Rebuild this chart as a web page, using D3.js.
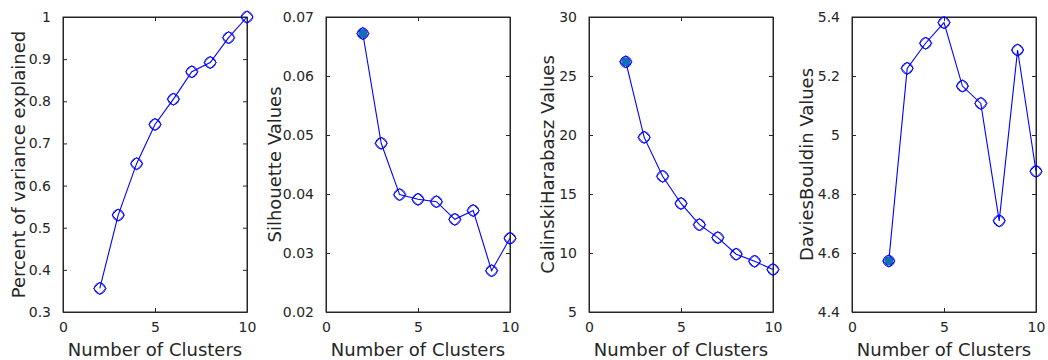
<!DOCTYPE html>
<html>
<head>
<meta charset="utf-8">
<script src="https://cdn.jsdelivr.net/npm/d3@7"></script>
<style>
  body { margin: 0; background: #fff; }
  text { font-family: "DejaVu Sans", sans-serif; fill: #262626; }
</style>
</head>
<body>
<svg id="chart"></svg>
<script>
// cluster counts shared by all four panels
const clusters = [2, 3, 4, 5, 6, 7, 8, 9, 10]
const xTicks = [0, 5, 10]

const varianceExplained = [0.356, 0.530, 0.652, 0.745, 0.805, 0.870, 0.892, 0.951, 1.0]
const silhouetteValues = [0.0672, 0.0486, 0.0399, 0.0391, 0.0387, 0.0357, 0.0372, 0.0270, 0.0325]
const calinskiValues = [26.2, 19.8, 16.5, 14.2, 12.4, 11.3, 9.9, 9.3, 8.6]
const daviesValues = [4.573, 5.226, 5.311, 5.381, 5.166, 5.107, 4.709, 5.288, 4.877]

const varianceTicks = [0.3, 0.4, 0.5, 0.6, 0.7, 0.8, 0.9, 1]
const silhouetteTicks = [0.02, 0.03, 0.04, 0.05, 0.06, 0.07]
const calinskiTicks = [5, 10, 15, 20, 25, 30]
const daviesTicks = [4.4, 4.6, 4.8, 5, 5.2, 5.4]

const panels = [
    { values: varianceExplained, ticks: varianceTicks, label: "Percent of variance explained", best: null, fmt: d => String(d) },
    { values: silhouetteValues, ticks: silhouetteTicks, label: "Silhouette Values", best: 0, fmt: d => d.toFixed(2) },
    { values: calinskiValues, ticks: calinskiTicks, label: "CalinskiHarabasz Values", best: 0, fmt: d => String(d) },
    { values: daviesValues, ticks: daviesTicks, label: "DaviesBouldin Values", best: 0, fmt: d => String(d) }
]

let width = 1048
let height = 360
let plotW = 184
let plotH = 295
let marginTop = 17
let lefts = [63, 326, 589, 852]
let labelOffsets = [-38, -45, -35, -39]

let svg = d3.select("#chart")
    .attr("width", width)
    .attr("height", height)

panels.forEach((p, i) =>
{
    let g = svg.append("g")
        .attr("transform", `translate(${lefts[i]},${marginTop})`)

    let xScale = d3.scaleLinear().domain([0, 10]).range([0, plotW])
    let yScale = d3.scaleLinear()
        .domain([p.ticks[0], p.ticks[p.ticks.length - 1]])
        .range([plotH, 0])

    // ticks pointing inward, MATLAB style
    let xAxis = d3.axisBottom(xScale).tickValues(xTicks).tickSizeInner(-4).tickSizeOuter(0).tickPadding(10)
    let yAxis = d3.axisLeft(yScale).tickValues(p.ticks).tickFormat(p.fmt).tickSizeInner(-4).tickSizeOuter(0).tickPadding(12)
    let xTop = d3.axisTop(xScale).tickValues(xTicks).tickSizeInner(-4).tickSizeOuter(0).tickFormat("")
    let yRight = d3.axisRight(yScale).tickValues(p.ticks).tickSizeInner(-4).tickSizeOuter(0).tickFormat("")

    let gx = g.append("g").attr("transform", `translate(0,${plotH})`).call(xAxis)
    let gy = g.append("g").call(yAxis)
    g.append("g").call(xTop)
    g.append("g").attr("transform", `translate(${plotW},0)`).call(yRight)

    g.selectAll(".domain").attr("stroke", "#262626")
    g.selectAll(".tick line").attr("stroke", "#262626")
    g.selectAll(".tick text").style("font-size", "14px").attr("fill", "#262626")
    gx.selectAll(".tick text").attr("dy", "0.71em")

    g.append("rect")
        .attr("width", plotW)
        .attr("height", plotH)
        .attr("fill", "none")
        .attr("stroke", "#262626")
        .attr("stroke-width", 1)

    let pts = clusters.map((k, j) => ({ k: k, v: p.values[j] }))

    let line = d3.line()
        .x(d => xScale(d.k))
        .y(d => yScale(d.v))

    g.append("path")
        .datum(pts)
        .attr("d", line)
        .attr("fill", "none")
        .attr("stroke", "#0000ff")
        .attr("stroke-width", 1.1)

    if (p.best !== null)
    {
        g.append("circle")
            .attr("cx", xScale(pts[p.best].k))
            .attr("cy", yScale(pts[p.best].v))
            .attr("r", 4.5)
            .attr("fill", "#1070b0")
    }

    g.selectAll(".mk-circle")
        .data(pts)
        .enter()
        .append("circle")
        .attr("class", "mk-circle")
        .attr("cx", d => xScale(d.k))
        .attr("cy", d => yScale(d.v))
        .attr("r", 5.5)
        .attr("fill", "none")
        .attr("stroke", "#0000ff")
        .attr("stroke-width", 1)

    let diamond = d3.symbol().type(d3.symbolDiamond2).size(100)
    g.selectAll(".mk-diamond")
        .data(pts)
        .enter()
        .append("path")
        .attr("class", "mk-diamond")
        .attr("transform", d => `translate(${xScale(d.k)},${yScale(d.v)})`)
        .attr("d", diamond)
        .attr("fill", "none")
        .attr("stroke", "#0000ff")
        .attr("stroke-width", 1)

    g.append("text")
        .attr("x", plotW / 2)
        .attr("y", plotH + 44)
        .attr("text-anchor", "middle")
        .style("font-size", "18px")
        .text("Number of Clusters")

    g.append("text")
        .attr("transform", `translate(${labelOffsets[i]},${plotH / 2}) rotate(-90)`)
        .attr("text-anchor", "middle")
        .style("font-size", "18px")
        .text(p.label)
})
</script>
</body>
</html>
